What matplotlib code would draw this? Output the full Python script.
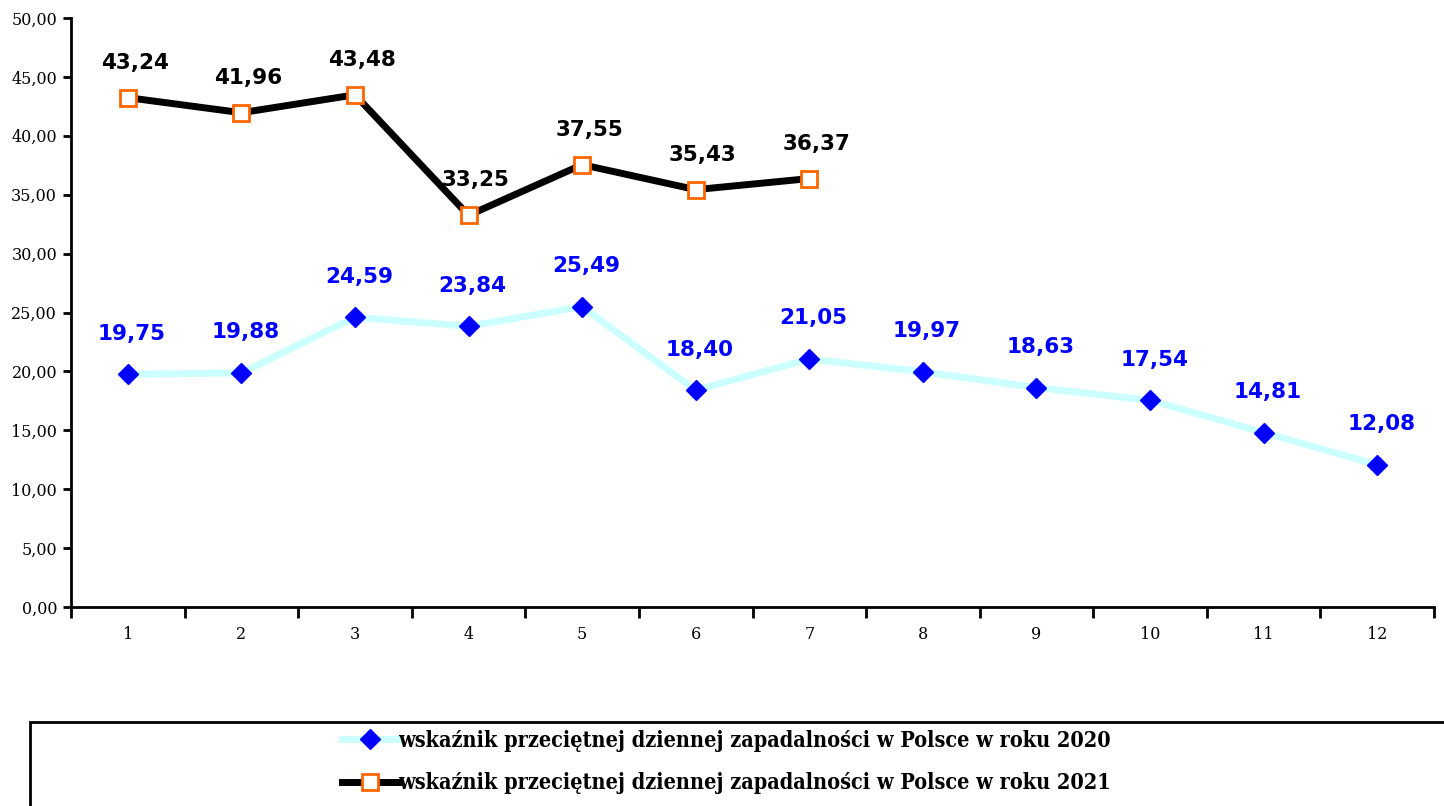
import matplotlib
matplotlib.use('Agg')
import matplotlib.pyplot as plt
from matplotlib.patches import Rectangle
from matplotlib.ticker import FuncFormatter, MultipleLocator

# data
months = [1, 2, 3, 4, 5, 6, 7, 8, 9, 10, 11, 12]
rate_2020 = [19.75, 19.88, 24.59, 23.84, 25.49, 18.40, 21.05, 19.97, 18.63, 17.54, 14.81, 12.08]
months_2021 = [1, 2, 3, 4, 5, 6, 7]
rate_2021 = [43.24, 41.96, 43.48, 33.25, 37.55, 35.43, 36.37]
label_2020 = 'wskaźnik przeciętnej dziennej zapadalności w Polsce w roku 2020'
label_2021 = 'wskaźnik przeciętnej dziennej zapadalności w Polsce w roku 2021'

fig = plt.figure(figsize=(14.44, 8.06), dpi=100)
ax = fig.add_axes([71 / 1444, 1 - 607 / 806, (1434 - 71) / 1444, (607 - 18) / 806])

# lines
ax.plot(months, rate_2020, color='#ccffff', lw=5, marker='D', markersize=10,
        markerfacecolor='#0000ff', markeredgecolor='#0000ff', label=label_2020, zorder=3)
ax.plot(months_2021, rate_2021, color='black', lw=5, marker='s', markersize=11,
        markerfacecolor='white', markeredgecolor='#ff6600', markeredgewidth=2,
        label=label_2021, zorder=4)

# data labels
for x, y in zip(months, rate_2020):
    ax.annotate(f'{y:.2f}'.replace('.', ','), (x, y), xytext=(3, 22), textcoords='offset points',
                ha='center', va='bottom', color='#0000ff', fontsize=15.5, fontweight='heavy',
                family='DejaVu Sans')
for x, y in zip(months_2021, rate_2021):
    ax.annotate(f'{y:.2f}'.replace('.', ','), (x, y), xytext=(5, 18), textcoords='offset points',
                ha='center', va='bottom', color='black', fontsize=15.5, fontweight='heavy',
                family='DejaVu Sans')

# axes
ax.set_xlim(0.5, 12.5)
ax.set_ylim(0, 50)
ax.yaxis.set_major_locator(MultipleLocator(5))
ax.yaxis.set_major_formatter(FuncFormatter(lambda v, p: f'{v:.2f}'.replace('.', ',')))
ax.set_xticks(months)
ax.set_xticklabels([str(m) for m in months])
ax.set_xticks([m + 0.5 for m in [0] + months], minor=True)
ax.tick_params(axis='x', which='major', length=0, pad=14)
ax.tick_params(axis='x', which='minor', length=8, width=2, direction='out')
ax.tick_params(axis='y', length=6, width=2, direction='out', pad=4)
for lab in ax.get_xticklabels() + ax.get_yticklabels():
    lab.set_family('DejaVu Serif')
    lab.set_fontsize(11.5)
for side in ['top', 'right']:
    ax.spines[side].set_visible(False)
for side in ['left', 'bottom']:
    ax.spines[side].set_linewidth(2)

# legend box
fig.patches.append(Rectangle((30 / 1444, -0.05), 1.05, 1 - 722 / 806 + 0.05,
                             transform=fig.transFigure, fill=False, edgecolor='black', lw=2))
leg = fig.legend(loc='center', bbox_to_anchor=(0.503, 1 - 762 / 806), frameon=False,
                 handlelength=2.6, handletextpad=0.0, labelspacing=0.95,
                 prop={'family': 'DejaVu Serif', 'weight': 'bold', 'size': 15.5, 'stretch': 'condensed'})

fig.savefig('out.png', dpi=100)
